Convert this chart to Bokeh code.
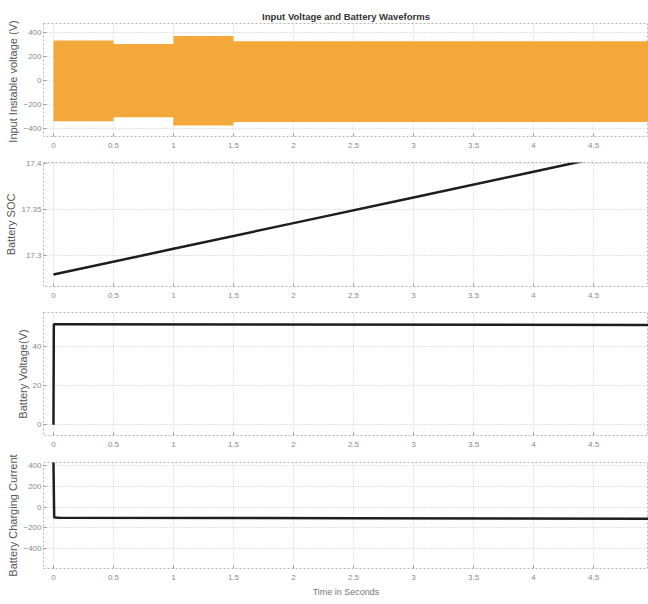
from bokeh.plotting import figure
from bokeh.layouts import column
from bokeh.models import FixedTicker, Range1d
from bokeh.embed import file_html
from bokeh.resources import INLINE

# ---- data ----
x_ticks = [0, 0.5, 1, 1.5, 2, 2.5, 3, 3.5, 4, 4.5]
x_labels = ["0", "0.5", "1", "1.5", "2", "2.5", "3", "3.5", "4", "4.5"]

# input voltage envelope (peak amplitude per segment)
seg_start = [0.0, 0.5, 1.0, 1.5]
seg_end = [0.5, 1.0, 1.5, 4.96]
seg_pos_peak = [333, 305, 370, 328]
seg_neg_peak = [-340, -307, -375, -347]
v_ticks = [-400, -200, 0, 200, 400]

# battery state of charge
soc_t = [0, 1, 2, 3, 4, 5]
soc_v = [17.279, 17.307, 17.335, 17.363, 17.391, 17.419]
soc_ticks = [17.3, 17.35, 17.4]
soc_labels = ["17.3", "17.35", "17.4"]

# battery voltage
bv_t = [0.0, 0.003, 0.02, 4.96]
bv_v = [0.0, 51.0, 51.0, 50.7]
bv_ticks = [0, 20, 40]

# battery charging current
bi_t = [0.0, 0.0, 0.006, 0.05, 2.5, 4.96]
bi_v = [600, 430, -100, -103, -106, -112]
bi_ticks = [-400, -200, 0, 200, 400]

FONT = "Liberation Sans"
X_RANGE = (-0.083, 4.958)


def make_fig(h, top, bottom, yr, yticks, ylabel, ylabels=None, title=None, xlabel=None):
    kw = dict(width=648, height=h, output_backend="svg", toolbar_location=None,
              min_border_top=top, min_border_left=43, min_border_bottom=bottom,
              min_border_right=0, x_range=Range1d(*X_RANGE), y_range=Range1d(*yr))
    if title:
        kw["title"] = title
    p = figure(**kw)
    p.background_fill_color = "white"
    p.border_fill_color = "white"
    p.outline_line_color = "#b5b5b5"
    p.outline_line_dash = "2 2"
    p.outline_line_width = 1
    if title:
        p.title.text_font = FONT
        p.title.text_font_size = "9.5px"
        p.title.text_font_style = "bold"
        p.title.text_color = "#333333"
        p.title.align = "center"
        p.title.offset = 0
        p.title.standoff = 4
    p.xaxis.ticker = FixedTicker(ticks=x_ticks)
    p.xaxis.major_label_overrides = {t: s for t, s in zip(x_ticks, x_labels)}
    p.yaxis.ticker = FixedTicker(ticks=yticks)
    if ylabels:
        p.yaxis.major_label_overrides = {t: s for t, s in zip(yticks, ylabels)}
    for ax in (p.xaxis, p.yaxis):
        ax.axis_line_color = None
        ax.major_tick_in = 3
        ax.major_tick_out = 0
        ax.major_tick_line_color = "#999999"
        ax.minor_tick_line_color = None
        ax.major_label_text_font = FONT
        ax.major_label_text_font_size = "8px"
        ax.major_label_text_color = "#8a8a8a"
        ax.axis_label_text_font = FONT
        ax.axis_label_text_font_style = "normal"
    p.xaxis.major_label_standoff = 6
    p.yaxis.major_label_standoff = 2
    p.yaxis.axis_label = ylabel
    p.yaxis.axis_label_text_font_size = "11px"
    p.yaxis.axis_label_text_color = "#555555"
    p.yaxis.axis_label_standoff = 1
    if xlabel:
        p.xaxis.axis_label = xlabel
        p.xaxis.axis_label_text_font_size = "9px"
        p.xaxis.axis_label_text_color = "#777777"
        p.xaxis.axis_label_standoff = 4
    for g in (p.xgrid, p.ygrid):
        g.grid_line_color = "#c8c8c8"
        g.grid_line_dash = "1 2"
        g.grid_line_width = 1
    return p


# panel 1: input voltage (envelope built as one stepped band)
p1 = make_fig(152, 23, 16, (-467, 475), v_ticks, "Input  Instable voltage (V)",
              title="Input Voltage and Battery Waveforms")
band_x, band_hi, band_lo = [], [], []
for s, e, hi, lo in zip(seg_start, seg_end, seg_pos_peak, seg_neg_peak):
    band_x += [s, e]
    band_hi += [hi, hi]
    band_lo += [lo, lo]
p1.varea(x=band_x, y1=band_lo, y2=band_hi, fill_color="#F4A83A", fill_alpha=1.0)

# panel 2: SOC
p2 = make_fig(150, 10, 16, (17.266, 17.401), soc_ticks, "Battery SOC", ylabels=soc_labels)
p2.line(soc_t, soc_v, line_color="#1e1e1e", line_width=2.5)

# panel 3: battery voltage
p3 = make_fig(148, 10, 15, (-5.4, 57), bv_ticks, "Battery Voltage(V)")
p3.line(bv_t, bv_v, line_color="#1e1e1e", line_width=2.5)

# panel 4: charging current
p4 = make_fig(152, 12, 34, (-593, 432), bi_ticks, "Battery Charging Current",
              xlabel="Time in Seconds")
p4.line(bi_t, bi_v, line_color="#1e1e1e", line_width=2.5)

layout = column(p1, p2, p3, p4, spacing=0)
open("out.html", "w").write(file_html(layout, INLINE))
